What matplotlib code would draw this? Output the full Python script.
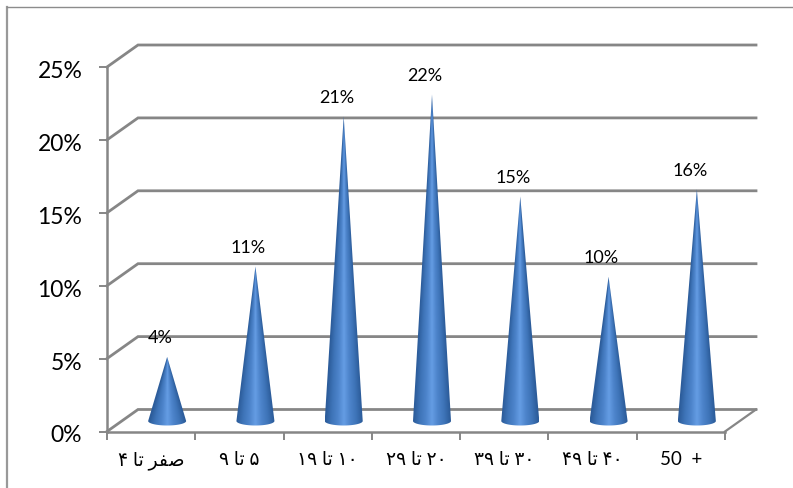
import matplotlib
matplotlib.use("Agg")
import matplotlib.pyplot as plt
from matplotlib.colors import LinearSegmentedColormap
from matplotlib.lines import Line2D
from matplotlib.patches import Polygon
from matplotlib.transforms import ScaledTranslation
import numpy as np

plt.rcParams.update({
    "font.family": ["Lato", "DejaVu Sans"],
    "figure.dpi": 100,
})

# age bands, written in display order with shaped Arabic forms
categories = [
    "\u06f4 \ufe8e\ufe97 \ufeae\ufed4\ufebb",
    "\u06f9 \ufe8e\ufe97 \u06f5",
    "\u06f1\u06f9 \ufe8e\ufe97 \u06f1\u06f0",
    "\u06f2\u06f9 \ufe8e\ufe97 \u06f2\u06f0",
    "\u06f3\u06f9 \ufe8e\ufe97 \u06f3\u06f0",
    "\u06f4\u06f9 \ufe8e\ufe97 \u06f4\u06f0",
    "50  +",
]
shares = [4.4, 10.6, 20.9, 22.4, 15.4, 9.9, 15.9]
y_ticks = [0, 5, 10, 15, 20, 25]

GRAY = "#868686"
W, H = 793, 489
X0, X1, Y0, Y1 = 107, 725, 432.5, 68  # plot area in pixels

fig = plt.figure(figsize=(W / 100, H / 100))
ax = fig.add_axes([X0 / W, 1 - Y0 / H, (X1 - X0) / W, (Y0 - Y1) / H])

n = len(categories)
px = n / (X1 - X0)  # data units per pixel, horizontally
py = 25 / (Y0 - Y1)  # and vertically

# chart border, only its left and top edges fall inside the canvas
fig.add_artist(Line2D([6.5 / W, 6.5 / W], [0, 1 - 8 / H], color="#999999", lw=1.6))
fig.add_artist(Line2D([6.5 / W, 1], [1 - 8 / H, 1 - 8 / H], color="#8c8c8c", lw=1.0))

# back wall gridlines with their slanted side-wall returns
dx, dy = 31 * px, 22 * py
for t in y_ticks:
    ax.plot([0, dx, n + dx], [t, t + dy, t + dy], color=GRAY, lw=2.0,
            clip_on=False, solid_joinstyle="miter", zorder=1)
ax.plot([n, n + dx], [0, dy], color=GRAY, lw=1.6, clip_on=False, zorder=1)

cone_cmap = LinearSegmentedColormap.from_list(
    "cone", ["#2c5c9a", "#3e74b8", "#4d84cb", "#659de4", "#4d84cb", "#3e74b8", "#2c5c9a"])

cx_off, base_y = 16 * px, 10.5 * py
half_w, half_h = 19 * px, 4.5 * py
arc = np.linspace(np.pi, 2 * np.pi, 40)

for i, v in enumerate(shares):
    cx = i + 0.5 + cx_off
    top = base_y + v
    xs = np.r_[cx, cx + half_w * np.cos(arc)]
    ys = np.r_[top, base_y + half_h * np.sin(arc)]
    outline = Polygon(np.c_[xs, ys], closed=True, fc="none", ec="none", clip_on=False)
    ax.add_patch(outline)

    # shading follows the cone surface, so it narrows toward the apex
    gx, gy = np.meshgrid(np.linspace(-1, 1, 120), np.linspace(1, 0, 300))
    surface = np.clip(gx / np.clip(1 - gy, 0.02, 1), -1, 1) * 0.5 + 0.5
    im = ax.imshow(surface, cmap=cone_cmap, vmin=0, vmax=1, aspect="auto", zorder=3,
                   extent=[cx - half_w, cx + half_w, base_y - half_h, top])
    im.set_clip_path(outline)

    ax.text(cx - 7 * px, top + 19.5 * py, f"{v:.0f}%", ha="center", va="center",
            fontsize=13, color="black", zorder=4)

ax.set_xlim(0, n)
ax.set_ylim(0, 25)
ax.patch.set_visible(False)
for side in ("top", "right"):
    ax.spines[side].set_visible(False)
for side in ("left", "bottom"):
    ax.spines[side].set_color(GRAY)
    ax.spines[side].set_linewidth(1.8)

ax.set_yticks(y_ticks)
ax.set_yticklabels([f"{t}%" for t in y_ticks], fontsize=16.5)
ax.set_xticks(range(n + 1))
ax.set_xticklabels([])
ax.set_xticks(np.arange(n) + 0.5, minor=True)
ax.set_xticklabels(categories, minor=True, fontsize=13.5)
ax.tick_params(axis="both", which="major", length=5.8, width=1.4, color=GRAY)
ax.tick_params(axis="y", which="major", pad=12)
ax.tick_params(axis="x", which="minor", length=0, pad=13.5)

# nudge the percent labels down a touch
for label in ax.get_yticklabels():
    label.set_transform(label.get_transform() + ScaledTranslation(0, -1.5 / 100, fig.dpi_scale_trans))

fig.savefig("out.png", dpi=100)
